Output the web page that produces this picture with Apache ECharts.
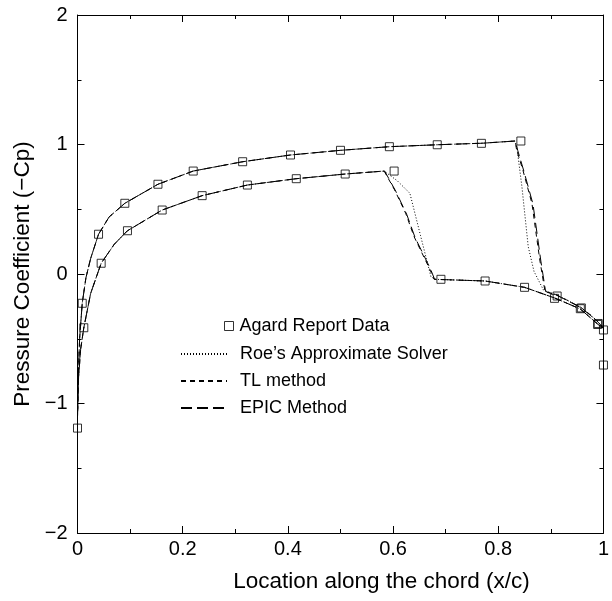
<!DOCTYPE html>
<html>
<head>
<meta charset="utf-8">
<script src="https://cdn.jsdelivr.net/npm/echarts@6/dist/echarts.min.js"></script>
<style>
  html, body { margin: 0; padding: 0; background: #fff; }
  #chart { width: 612px; height: 601px; }
</style>
</head>
<body>
<div id="chart"></div>
<script>
// Agard report data, upper and lower surface (x/c, -Cp)
const agardUpper = [
  [0.0, -1.19], [0.009, -0.226], [0.040, 0.307], [0.090, 0.546], [0.153, 0.693],
  [0.220, 0.795], [0.314, 0.867], [0.405, 0.919], [0.500, 0.955], [0.593, 0.983],
  [0.684, 0.998], [0.768, 1.009], [0.843, 1.027], [0.912, -0.170], [0.958, -0.262],
  [0.990, -0.382], [1.0, -0.432]
];
const agardLower = [
  [0.012, -0.415], [0.045, 0.083], [0.095, 0.334], [0.161, 0.494], [0.237, 0.605],
  [0.323, 0.687], [0.416, 0.736], [0.509, 0.772], [0.602, 0.795], [0.691, -0.041],
  [0.775, -0.054], [0.850, -0.103], [0.907, -0.188], [0.956, -0.268], [0.989, -0.39],
  [1.0, -0.703]
];

// computed Cp, one closed loop each: trailing edge -> upper -> leading edge -> lower -> trailing edge
const roeLine = [
  [1.0, -0.42], [0.99, -0.37], [0.975, -0.315], [0.956, -0.255], [0.93, -0.2], [0.91, -0.16],
  [0.886, -0.124], [0.868, 0.02], [0.857, 0.211], [0.845, 0.674], [0.836, 0.96], [0.832, 1.027],
  [0.77, 1.01], [0.684, 0.998], [0.593, 0.983], [0.50, 0.955], [0.405, 0.919], [0.314, 0.867],
  [0.22, 0.795], [0.153, 0.693], [0.09, 0.546], [0.06, 0.44], [0.04, 0.307], [0.025, 0.12],
  [0.016, -0.03], [0.009, -0.226], [0.004, -0.5], [0.001, -0.85], [0.0, -1.1],
  [0.002, -0.8], [0.006, -0.58], [0.012, -0.415], [0.025, -0.15], [0.045, 0.083], [0.07, 0.23],
  [0.095, 0.334], [0.161, 0.494], [0.237, 0.605], [0.323, 0.687], [0.416, 0.736], [0.509, 0.772],
  [0.583, 0.795], [0.608, 0.72], [0.632, 0.623], [0.652, 0.3], [0.672, -0.021], [0.68, -0.041],
  [0.775, -0.054], [0.85, -0.103], [0.907, -0.185], [0.956, -0.27], [0.99, -0.39], [1.0, -0.42]
];
const tlLine = [
  [1.0, -0.42], [0.99, -0.37], [0.975, -0.315], [0.956, -0.255], [0.93, -0.2], [0.91, -0.16],
  [0.889, -0.137], [0.879, 0.108], [0.864, 0.546], [0.847, 0.80], [0.835, 0.958], [0.832, 1.027],
  [0.77, 1.01], [0.684, 0.998], [0.593, 0.983], [0.50, 0.955], [0.405, 0.919], [0.314, 0.867],
  [0.22, 0.795], [0.153, 0.693], [0.09, 0.546], [0.06, 0.44], [0.04, 0.307], [0.025, 0.12],
  [0.016, -0.03], [0.009, -0.226], [0.004, -0.5], [0.001, -0.85], [0.0, -1.1],
  [0.002, -0.8], [0.006, -0.58], [0.012, -0.415], [0.025, -0.15], [0.045, 0.083], [0.07, 0.23],
  [0.095, 0.334], [0.161, 0.494], [0.237, 0.605], [0.323, 0.687], [0.416, 0.736], [0.509, 0.772],
  [0.583, 0.795], [0.603, 0.649], [0.624, 0.469], [0.640, 0.288], [0.669, 0.044], [0.678, -0.041],
  [0.775, -0.054], [0.85, -0.103], [0.907, -0.185], [0.956, -0.27], [0.99, -0.39], [1.0, -0.42]
];
const epicLine = [
  [1.0, -0.42], [0.99, -0.372], [0.975, -0.318], [0.956, -0.258], [0.93, -0.202], [0.91, -0.162],
  [0.890, -0.135], [0.881, 0.10], [0.866, 0.54], [0.849, 0.79], [0.837, 0.955], [0.833, 1.027],
  [0.77, 1.01], [0.684, 0.998], [0.593, 0.983], [0.50, 0.955], [0.405, 0.919], [0.314, 0.867],
  [0.22, 0.795], [0.153, 0.693], [0.09, 0.546], [0.06, 0.44], [0.04, 0.307], [0.025, 0.12],
  [0.016, -0.03], [0.009, -0.226], [0.004, -0.5], [0.001, -0.85], [0.0, -1.1],
  [0.002, -0.8], [0.006, -0.58], [0.012, -0.415], [0.025, -0.15], [0.045, 0.083], [0.07, 0.23],
  [0.095, 0.334], [0.161, 0.494], [0.237, 0.605], [0.323, 0.687], [0.416, 0.736], [0.509, 0.772],
  [0.584, 0.795], [0.605, 0.64], [0.626, 0.46], [0.642, 0.28], [0.671, 0.04], [0.679, -0.041],
  [0.775, -0.054], [0.85, -0.103], [0.907, -0.185], [0.956, -0.27], [0.99, -0.39], [1.0, -0.42]
];

const xTicks = [0, 0.2, 0.4, 0.6, 0.8, 1];
const yTicks = [-2, -1, 0, 1, 2];

const font = "'Liberation Sans', Arial, Helvetica, sans-serif";
const black = "#000";

let chart = echarts.init(document.getElementById("chart"));

// shared axis look, ticks inside like the original plot
function frameAxis(extra) {
  return Object.assign({
    type: "value",
    axisLine: { show: true, onZero: false, lineStyle: { color: black, width: 1 } },
    axisTick: { show: true, inside: true, length: 7, lineStyle: { color: black } },
    minorTick: { show: true, splitNumber: 2, length: 4, lineStyle: { color: black } },
    splitLine: { show: false },
  }, extra);
}

let option = {
  backgroundColor: "#fff",
  animation: false,
  textStyle: { fontFamily: font, color: black },
  grid: { left: 77.5, right: 4.5, top: 15, bottom: 68, containLabel: false },
  legend: [
    {
      data: ["Agard Report Data"],
      left: 219,
      top: 312,
      icon: "rect",
      itemWidth: 9,
      itemHeight: 9,
      itemStyle: { color: "#fff", borderColor: black, borderWidth: 1 },
      textStyle: { fontFamily: font, fontSize: 18, color: black, padding: [0, 0, 0, 1] },
    },
    {
      data: ["Roe’s Approximate Solver", "TL method", "EPIC Method"],
      orient: "vertical",
      left: 175,
      top: 340,
      itemWidth: 46,
      itemHeight: 14,
      itemGap: 9,
      itemStyle: { opacity: 0 },
      textStyle: { fontFamily: font, fontSize: 18, color: black, padding: [0, 0, 0, 8] },
    },
  ],
  xAxis: [
    frameAxis({
      min: 0, max: 1, interval: 0.2,
      name: "Location along the chord (x/c)",
      nameLocation: "middle",
      nameGap: 37,
      nameTextStyle: { fontFamily: font, fontSize: 22.5, color: black, padding: [0, 0, 0, 82] },
      axisLabel: {
        fontFamily: font, fontSize: 20, color: black, margin: 6,
        formatter: function (v) {
          return xTicks.indexOf(Math.round(v * 10) / 10) >= 0 ? String(Math.round(v * 10) / 10) : "";
        },
      },
    }),
    frameAxis({
      min: 0, max: 1, interval: 0.2, position: "top",
      axisLabel: { show: false },
    }),
  ],
  yAxis: [
    frameAxis({
      min: -2, max: 2, interval: 1,
      name: "Pressure Coefficient (\u2212Cp)",
      nameLocation: "middle",
      nameGap: 34,
      nameTextStyle: { fontFamily: font, fontSize: 22.5, color: black },
      axisLabel: {
        fontFamily: font, fontSize: 20, color: black, margin: 10,
        formatter: function (v) {
          return yTicks.indexOf(v) >= 0 ? String(v).replace("-", "\u2212") : "";
        },
      },
    }),
    frameAxis({
      min: -2, max: 2, interval: 1, position: "right",
      axisLabel: { show: false },
    }),
  ],
  series: [
    {
      name: "Roe’s Approximate Solver",
      type: "line",
      data: roeLine,
      symbol: "none",
      lineStyle: { color: black, width: 1, type: [1, 2] },
      itemStyle: { color: black },
      z: 2,
    },
    {
      name: "TL method",
      type: "line",
      data: tlLine,
      symbol: "none",
      lineStyle: { color: black, width: 1, type: [5, 4] },
      itemStyle: { color: black },
      z: 2,
    },
    {
      name: "EPIC Method",
      type: "line",
      data: epicLine,
      symbol: "none",
      lineStyle: { color: black, width: 1, type: [11, 5] },
      itemStyle: { color: black },
      z: 2,
    },
    {
      name: "Agard Report Data",
      type: "scatter",
      data: agardUpper.concat(agardLower),
      symbol: "rect",
      symbolSize: 8,
      itemStyle: { color: "rgba(255,255,255,0)", borderColor: black, borderWidth: 1 },
      z: 3,
    },
  ],
};
chart.setOption(option);
</script>
</body>
</html>
